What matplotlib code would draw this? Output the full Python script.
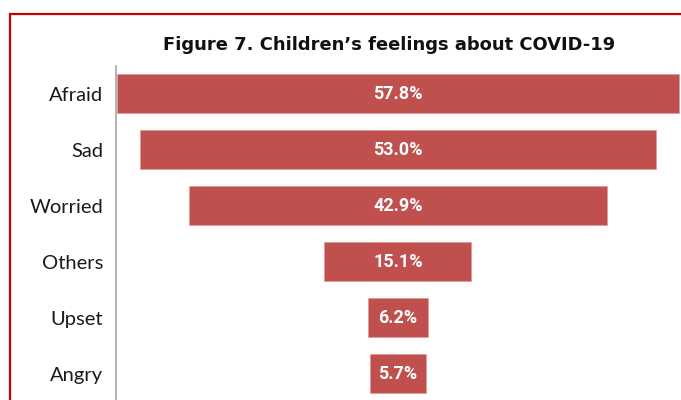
import matplotlib
matplotlib.use("Agg")
import matplotlib.pyplot as plt
from matplotlib.patches import Rectangle

# children's feelings about COVID-19 (% of respondents)
feelings = ["Afraid", "Sad", "Worried", "Others", "Upset", "Angry"]
percent = [57.8, 53.0, 42.9, 15.1, 6.2, 5.7]

title = "Figure 7. Children\u2019s feelings about COVID-19"

BAR = "#c0504d"
FRAME = "#c80000"

W, H = 681, 400
fig = plt.figure(figsize=(W / 100, H / 100), dpi=100)

# red frame round the figure, only top and left edges fall inside the canvas
fig.patches.append(Rectangle((10 / W, -0.2), 1.2, 1 - 14 / H + 0.2,
                             transform=fig.transFigure, fill=False,
                             edgecolor=FRAME, linewidth=1.6, zorder=0))

# funnel: each bar centred on zero
left_px, top_px, bottom_px = 115.7, 65.5, 401.6
ax = fig.add_axes([left_px / W, 1 - bottom_px / H,
                   1 - left_px / W, (bottom_px - top_px) / H])
ax.patch.set_alpha(0)

y = list(range(len(feelings)))
lefts = [-v / 2 for v in percent]
ax.barh(y, percent, left=lefts, height=0.7, color=BAR,
        edgecolor="#e39a98", linewidth=0.6)

for yi, v in zip(y, percent):
    ax.text(0, yi, f"{v:.1f}%", ha="center", va="center", color="white",
            fontsize=13, fontweight="bold", family="Roboto")

ax.set_xlim(-29.0, 29.1)
ax.set_ylim(len(feelings) - 0.5, -0.5)
ax.set_yticks(y)
ax.set_yticklabels(feelings, family="Lato", fontsize=14.5, color="#1a1a1a")
ax.tick_params(axis="y", length=0, pad=9)
ax.set_xticks([])
for side in ["top", "right", "bottom"]:
    ax.spines[side].set_visible(False)
ax.spines["left"].set_color("#a6a6a6")
ax.spines["left"].set_linewidth(1.2)

fig.text(389 / W, 1 - 45.5 / H, title, ha="center", va="center",
         fontsize=12.9, fontweight="bold", family="DejaVu Sans",
         color="#111111")

fig.savefig("out.png", dpi=100)
